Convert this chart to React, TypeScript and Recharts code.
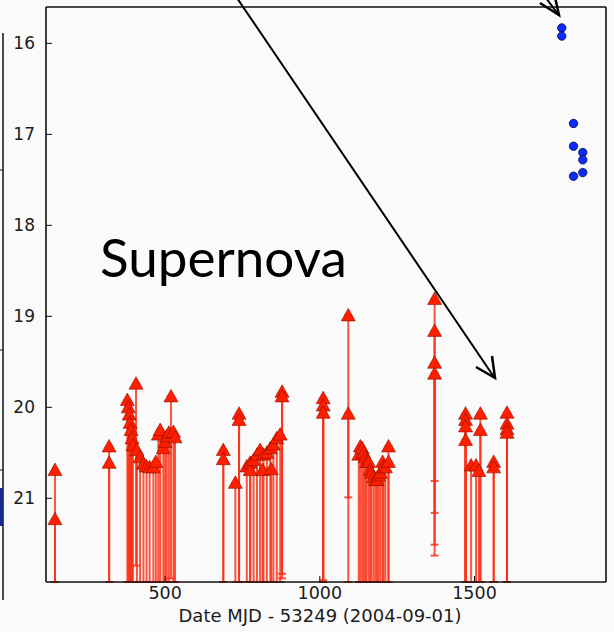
import { ScatterChart, Scatter, XAxis, YAxis, ErrorBar } from 'recharts';

// axis settings
const xTicks = [500, 1000, 1500];
const yTicks = [16, 17, 18, 19, 20, 21];
const xDomain = [115, 1925];
const yDomain = [15.6, 21.92];
const limitBar = 2; // upper limits carry a 2 mag bar downwards

// red triangles: upper limits (days since MJD 53249, magnitude)
const limitDays = [
    144, 144,
    319, 319,
    378, 381, 384, 387, 390, 393, 396, 406, 409, 419, 430, 440, 450, 462, 470,
    478, 484, 494, 500, 505, 512, 519, 527, 532,
    688, 688, 727, 739, 739, 764, 775, 775, 786, 797, 807, 815, 818, 829, 840,
    843, 850, 861, 872, 878, 878,
    1011, 1011, 1011,
    1092, 1092,
    1126, 1131, 1137, 1142, 1147, 1151, 1158, 1163, 1167, 1174, 1180, 1185,
    1190, 1196, 1203, 1206, 1212, 1222, 1222,
    1371, 1371, 1371, 1371,
    1471, 1471, 1471, 1471, 1489, 1505, 1514, 1519, 1519, 1562, 1562,
    1605, 1605, 1605, 1605,
];
const limitMags = [
    20.69, 21.23,
    20.43, 20.61,
    19.92, 20.0, 20.08, 20.17, 20.25, 20.34, 20.42, 19.74, 20.47, 20.55, 20.62, 20.65, 20.66, 20.66, 20.6,
    20.3, 20.25, 20.45, 20.38, 20.32, 20.28, 19.88, 20.27, 20.33,
    20.47, 20.57, 20.83, 20.07, 20.14, 20.65, 20.61, 20.69, 20.58, 20.52, 20.47, 20.69, 20.52, 20.5, 20.45,
    20.68, 20.41, 20.34, 20.3, 19.83, 19.88,
    19.9, 19.98, 20.06,
    18.99, 20.07,
    20.52, 20.43, 20.45, 20.5, 20.55, 20.6, 20.6, 20.69, 20.72, 20.77, 20.8, 20.8,
    20.75, 20.72, 20.6, 20.65, 20.66, 20.43, 20.6,
    18.81, 19.16, 19.51, 19.63,
    20.07, 20.14, 20.21, 20.36, 20.64, 20.64, 20.7, 20.07, 20.25, 20.6, 20.66,
    20.06, 20.18, 20.24, 20.28,
];

// blue circles: detections of the supernova
const detDays = [1782, 1782, 1820, 1820, 1850, 1850, 1850, 1820];
const detMags = [15.83, 15.92, 16.88, 17.13, 17.2, 17.28, 17.42, 17.46];

const limits = limitDays.map((d, i) => ({
    day: d,
    mag: limitMags[i],
    err: [0, Math.min(limitBar, yDomain[1] - limitMags[i])],
}));
const detections = detDays.map((d, i) => ({ day: d, mag: detMags[i] }));

const font = 'DejaVu Sans';

function Triangle(props) {
    const { cx, cy } = props;
    return (
        <polygon
            points={`${cx},${cy - 7} ${cx - 7},${cy + 5.5} ${cx + 7},${cy + 5.5}`}
            fill="#ff1e00"
            stroke="#8a1000"
            strokeWidth={0.6}
        />
    );
}

function Dot(props) {
    const { cx, cy } = props;
    return <circle cx={cx} cy={cy} r={4.2} fill="#0b2cff" stroke="#000a40" strokeWidth={0.8} />;
}

export default function App() {
    const axisLine = { stroke: '#111', strokeWidth: 1.6 };
    const tickLine = { stroke: '#111', strokeWidth: 1 };
    const xTickStyle = { fill: '#1c1c1c', fontSize: 17.5, fontFamily: font };
    const yTickStyle = { fill: '#1c1c1c', fontSize: 17, fontFamily: font };

    return (
        <div style={{ position: 'absolute', left: 0, top: 0, width: 614, height: 632, background: '#fafafa' }}>
            <ScatterChart width={614} height={632} margin={{ top: 6, right: 7, bottom: 0, left: 0 }}>
                <XAxis
                    xAxisId="b"
                    type="number"
                    dataKey="day"
                    domain={xDomain}
                    ticks={xTicks}
                    allowDataOverflow
                    height={50}
                    tickSize={-6}
                    tickMargin={11}
                    axisLine={axisLine}
                    tickLine={tickLine}
                    tick={xTickStyle}
                    label={{
                        value: 'Date MJD - 53249 (2004-09-01)',
                        position: 'insideBottom',
                        offset: 10,
                        dx: -6,
                        style: { fill: '#1c1c1c', fontSize: 18, fontFamily: font },
                    }}
                />
                <XAxis
                    xAxisId="t"
                    orientation="top"
                    type="number"
                    dataKey="day"
                    domain={xDomain}
                    ticks={xTicks}
                    allowDataOverflow
                    height={1}
                    tickSize={-6}
                    tick={false}
                    axisLine={axisLine}
                    tickLine={tickLine}
                />
                <YAxis
                    yAxisId="l"
                    type="number"
                    dataKey="mag"
                    domain={yDomain}
                    ticks={yTicks}
                    reversed
                    allowDataOverflow
                    width={46}
                    tickSize={-6}
                    tickMargin={17}
                    axisLine={axisLine}
                    tickLine={tickLine}
                    tick={yTickStyle}
                />
                <YAxis
                    yAxisId="r"
                    orientation="right"
                    type="number"
                    dataKey="mag"
                    domain={yDomain}
                    ticks={yTicks}
                    reversed
                    allowDataOverflow
                    width={1}
                    tickSize={-6}
                    tick={false}
                    axisLine={axisLine}
                    tickLine={tickLine}
                />
                <Scatter
                    data={limits}
                    xAxisId="b"
                    yAxisId="l"
                    shape={<Triangle />}
                    isAnimationActive={false}
                >
                    <ErrorBar
                        dataKey="err"
                        direction="y"
                        width={4}
                        stroke="#ff2a10"
                        strokeOpacity={0.8}
                        strokeWidth={2}
                        isAnimationActive={false}
                    />
                </Scatter>
                <Scatter
                    data={detections}
                    xAxisId="b"
                    yAxisId="l"
                    shape={<Dot />}
                    isAnimationActive={false}
                />
            </ScatterChart>

            {/* annotations pasted over the figure */}
            <svg width={614} height={632} style={{ position: 'absolute', left: 0, top: 0, pointerEvents: 'none' }}>
                <line x1={3} y1={33} x2={3} y2={600} stroke="#111" strokeWidth={1.5} />
                <line x1={0} y1={170} x2={3} y2={170} stroke="#111" strokeWidth={1} />
                <line x1={0} y1={350} x2={3} y2={350} stroke="#111" strokeWidth={1} />
                <line x1={0} y1={470} x2={3} y2={470} stroke="#111" strokeWidth={1} />
                <rect x={0} y={488} width={3} height={38} fill="#1a2a8a" />
                <text x={100} y={277} fontFamily="Lato" fontSize={53} fill="#000">Supernova</text>
                <line x1={237} y1={-2} x2={494} y2={377} stroke="#000" strokeWidth={2} />
                <polyline points="476,367 495,378 492,356" fill="none" stroke="#000" strokeWidth={2.5} />
                <line x1={546} y1={-2} x2={558} y2={14} stroke="#000" strokeWidth={2} />
                <polyline points="540,3 559,15 555,-3" fill="none" stroke="#000" strokeWidth={2.5} />
            </svg>
        </div>
    );
}
